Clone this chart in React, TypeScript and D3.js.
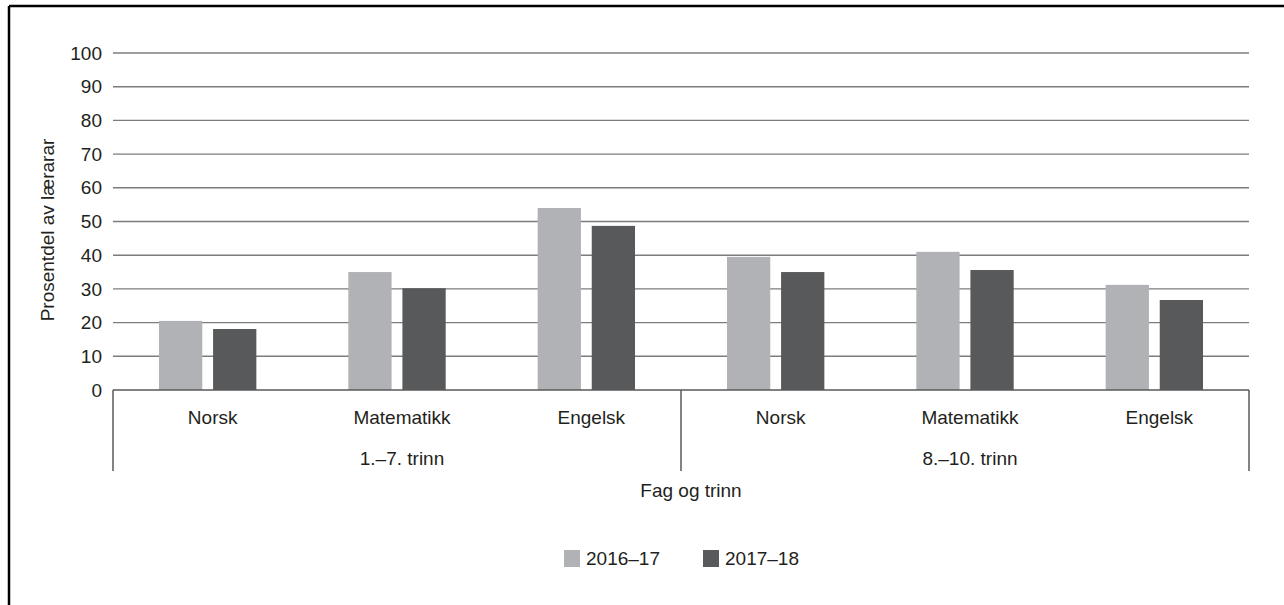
import React from "react";
import * as d3 from "d3";

const categories = ["Norsk", "Matematikk", "Engelsk", "Norsk", "Matematikk", "Engelsk"];
const groups = ["1.–7. trinn", "8.–10. trinn"];
const seriesNames = ["2016–17", "2017–18"];
const values2016 = [20.5, 35.0, 54.0, 39.5, 41.0, 31.2];
const values2017 = [18.1, 30.2, 48.7, 35.0, 35.6, 26.7];
const yTicks = [0, 10, 20, 30, 40, 50, 60, 70, 80, 90, 100];
const colors = ["#b1b2b5", "#58595b"];
const yTitle = "Prosentdel av lærarar";
const xTitle = "Fag og trinn";

const W = 1284;
const H = 605;
const left = 113;
const right = 1249;
const top = 53;
const bottom = 390;
const FONT = "'Liberation Sans', Arial, sans-serif";
const TXT = "#231f20";

export default function App() {
  const y = d3.scaleLinear().domain([0, 100]).range([bottom, top]);
  const idx = categories.map((_, i) => String(i));
  const x = d3.scaleBand<string>().domain(idx).range([left, right]).padding(0);
  const inner = d3
    .scaleBand<string>()
    .domain(seriesNames)
    .range([0, x.bandwidth()])
    .paddingInner(0.2)
    .paddingOuter(0.85);
  const gx = d3.scaleBand<string>().domain(groups).range([left, right]).padding(0);
  const series = [values2016, values2017];
  const labOff = 5;

  return (
    <svg
      width={W}
      height={H}
      style={{ position: "absolute", left: 0, top: 0, background: "#fff" }}
      fontFamily={FONT}
    >
      <rect x={0} y={0} width={W} height={H} fill="#fff" />
      {/* outer frame */}
      <line x1={9} y1={6} x2={W} y2={6} stroke="#000" strokeWidth={2.5} />
      <line x1={9} y1={6} x2={9} y2={H} stroke="#000" strokeWidth={2.5} />

      {/* gridlines */}
      {yTicks.filter((t) => t > 0).map((t) => (
        <line key={t} x1={left} x2={right} y1={y(t)} y2={y(t)} stroke="#7c7c7c" strokeWidth={1.4} />
      ))}
      {/* y tick labels */}
      {yTicks.map((t) => (
        <text key={t} x={102} y={y(t)} dy="0.35em" textAnchor="end" fontSize={19} fill={TXT}>
          {t}
        </text>
      ))}
      {/* bars */}
      {series.map((vals, s) =>
        vals.map((v, i) => (
          <rect
            key={`${s}-${i}`}
            x={(x(String(i)) as number) + (inner(seriesNames[s]) as number)}
            y={y(v)}
            width={inner.bandwidth()}
            height={y(0) - y(v)}
            fill={colors[s]}
          />
        ))
      )}
      {/* baseline and category box */}
      <line x1={left} x2={right} y1={bottom} y2={bottom} stroke="#595959" strokeWidth={1.5} />
      {[left, (left + right) / 2, right].map((xx, i) => (
        <line key={i} x1={xx} x2={xx} y1={bottom} y2={471} stroke="#595959" strokeWidth={1.5} />
      ))}
      {categories.map((c, i) => (
        <text
          key={i}
          x={(x(String(i)) as number) + x.bandwidth() / 2 + labOff}
          y={424}
          textAnchor="middle"
          fontSize={19}
          fill={TXT}
        >
          {c}
        </text>
      ))}
      {groups.map((g) => (
        <text
          key={g}
          x={(gx(g) as number) + gx.bandwidth() / 2 + labOff}
          y={465}
          textAnchor="middle"
          fontSize={19}
          fill={TXT}
        >
          {g}
        </text>
      ))}
      <text x={(left + right) / 2 + 10} y={497} textAnchor="middle" fontSize={19} fill={TXT}>
        {xTitle}
      </text>
      <text
        transform={`translate(54,230) rotate(-90)`}
        textAnchor="middle"
        fontSize={19}
        fill={TXT}
      >
        {yTitle}
      </text>
      {/* legend */}
      {seriesNames.map((s, i) => {
        const lx = i === 0 ? 564 : 703;
        return (
          <g key={s}>
            <rect x={lx} y={550} width={16} height={17} fill={colors[i]} />
            <text x={lx + 22} y={558.5} dy="0.35em" fontSize={19} fill={TXT}>
              {s}
            </text>
          </g>
        );
      })}
    </svg>
  );
}
